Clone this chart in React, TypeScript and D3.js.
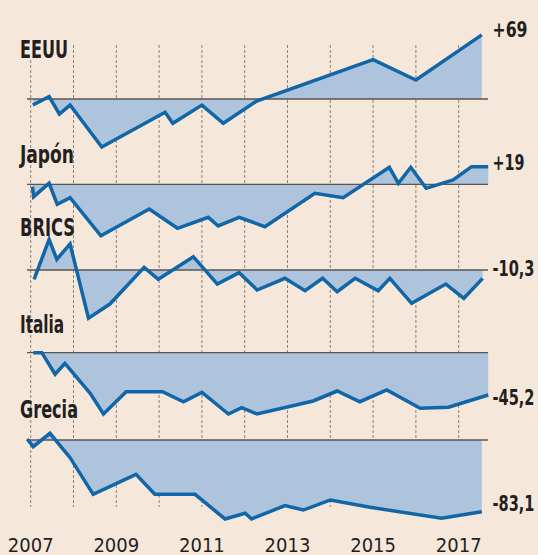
import { useEffect } from 'react';
import { area, curveLinear, line, scaleLinear } from 'd3';

// [year, % change]
const eeuu: [number, number][] = [
  [2007.05, -6.5], [2007.43, 2.5], [2007.67, -16.1], [2007.92, -6.5], [2008.66, -51.6],
  [2010.14, -14.3], [2010.32, -26.1], [2011.0, -6.5], [2011.5, -26.1], [2012.28, -2.2],
  [2015.0, 42.3], [2016.0, 20.4], [2017.54, 69],
];
const japon: [number, number][] = [
  [2007.04, -2.6], [2007.07, -13.3], [2007.43, 1.1], [2007.62, -21.5], [2007.92, -14.4],
  [2008.64, -55.3], [2009.77, -26.6], [2010.43, -47.3], [2011.15, -35.5], [2011.38, -44.8],
  [2011.87, -35.5], [2012.47, -45.6], [2013.64, -9.7], [2014.3, -14.4], [2015.38, 18.3],
  [2015.59, 1.1], [2015.88, 18.3], [2016.24, -4.3], [2016.87, 4.6], [2017.3, 19], [2017.69, 19],
];
const brics: [number, number][] = [
  [2007.08, -10], [2007.43, 33], [2007.61, 11.5], [2007.92, 28], [2008.35, -51.9],
  [2008.85, -36.6], [2009.65, 2.9], [2009.98, -10], [2010.8, 14.3], [2011.36, -15.1],
  [2011.87, -2.9], [2012.29, -21.5], [2012.94, -8.9], [2013.41, -22.3], [2013.82, -8.9],
  [2014.16, -23.3], [2014.58, -8.9], [2015.12, -22.3], [2015.39, -8.9], [2015.9, -35.8],
  [2016.7, -15.1], [2017.12, -30.4], [2017.56, -9],
];
const italia: [number, number][] = [
  [2007.06, 0], [2007.26, 0], [2007.57, -23.2], [2007.8, -11.4], [2008.39, -43.7],
  [2008.7, -65.9], [2009.23, -41.9], [2010.08, -41.9], [2010.57, -52.7], [2011.0, -42.6],
  [2011.62, -65.9], [2011.93, -59.1], [2012.29, -65.9], [2013.6, -51.9], [2014.16, -41.2],
  [2014.69, -52.7], [2015.32, -40.1], [2016.1, -59.8], [2016.76, -58.7], [2017.69, -45.5],
];
const grecia: [number, number][] = [
  [2006.92, 1.1], [2007.06, -7.2], [2007.45, 7.2], [2007.92, -19], [2008.46, -58.4],
  [2009.46, -36.9], [2009.9, -58.4], [2010.84, -58.4], [2011.54, -84.9], [2012.01, -78.8],
  [2012.16, -84.9], [2012.94, -70.6], [2013.37, -75.3], [2014.0, -64.5], [2014.93, -72.4],
  [2016.6, -84.2], [2017.54, -77.1],
];

const seriesNames = ['EEUU', 'Japón', 'BRICS', 'Italia', 'Grecia'];
const endLabels = ['+69', '+19', '-10,3', '-45,2', '-83,1'];
const seriesData = [eeuu, japon, brics, italia, grecia];
const gridYears = [2007, 2008, 2009, 2010, 2011, 2012, 2013, 2014, 2015, 2016, 2017];
const tickYears = [2007, 2009, 2011, 2013, 2015, 2017];

const W = 538;
const H = 555;
const baselines = [99, 184.3, 270, 352.7, 440];
const nameY = [58, 163, 236, 333, 418];
const nameWidth = [48, 54, 55, 44, 58];
const endY = [36.5, 170, 276, 405, 511];
const endWidth = [35, 32, 42, 42, 42];

const FONT = '"Liberation Sans Narrow", "DejaVu Sans Condensed", "Roboto Condensed", sans-serif';
const BG = '#f6e7db';
const LINE = '#1166a8';
const FILL = '#aec3dc';
const INK = '#231f20';

export default function App() {
  useEffect(() => {
    document.body.style.margin = '0';
    document.body.style.background = BG;
  }, []);

  const x = scaleLinear().domain([2007, 2017]).range([30.7, 458.7]);

  return (
    <svg width={W} height={H} style={{ display: 'block', background: BG }}>
      {gridYears.map((yr) => (
        <line
          key={yr}
          x1={x(yr)}
          x2={x(yr)}
          y1={yr === 2007 ? 60 : 45}
          y2={507}
          stroke="#7d7670"
          strokeWidth={0.9}
          strokeDasharray="3,2"
        />
      ))}

      {seriesData.map((data, i) => {
        const base = baselines[i];
        const y = scaleLinear().domain([-100, 100]).range([base + 93, base - 93]);
        const fillPath = area<[number, number]>()
          .x((d) => x(d[0]))
          .y0(y(0))
          .y1((d) => y(d[1]))
          .curve(curveLinear)(data) ?? '';
        const linePath = line<[number, number]>()
          .x((d) => x(d[0]))
          .y((d) => y(d[1]))(data) ?? '';
        return (
          <g key={seriesNames[i]}>
            <path d={fillPath} fill={FILL} />
            <line x1={27} x2={488} y1={y(0)} y2={y(0)} stroke="#5a5552" strokeWidth={1.3} />
            <path d={linePath} fill="none" stroke={LINE} strokeWidth={3.5} strokeLinejoin="miter" strokeMiterlimit={4} />
            <text
              x={20}
              y={nameY[i]}
              fontFamily={FONT}
              fontWeight="bold"
              fontSize={25}
              fill={INK}
              textLength={nameWidth[i]}
              lengthAdjust="spacingAndGlyphs"
            >
              {seriesNames[i]}
            </text>
            <text
              x={492.5}
              y={endY[i]}
              fontFamily={FONT}
              fontWeight="bold"
              fontSize={22}
              fill={INK}
              textLength={endWidth[i]}
              lengthAdjust="spacingAndGlyphs"
            >
              {endLabels[i]}
            </text>
          </g>
        );
      })}

      {tickYears.map((yr) => (
        <text key={yr} x={x(yr)} y={552} textAnchor="middle" fontFamily={FONT} fontSize={20} fill={INK}>
          {yr}
        </text>
      ))}
    </svg>
  );
}
